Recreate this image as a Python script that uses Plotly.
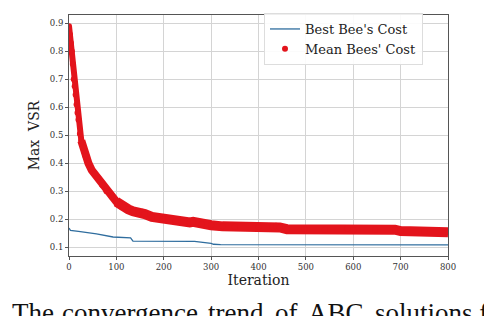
import plotly.graph_objects as go

# ---------------- data ----------------
mean_iter = [0, 2, 4, 6, 8, 10, 12, 14, 16, 18, 20, 23, 26, 30, 35, 41, 48, 55, 61,
             70, 79, 90, 100, 107, 115, 125, 135, 149, 155, 160, 175, 198, 225, 255,
             262, 280, 300, 324, 350, 400, 430, 437, 445, 460, 497, 540, 588, 600,
             646, 688, 700, 750, 800]
mean_cost = [0.89, 0.86, 0.83, 0.80, 0.755, 0.70, 0.675, 0.645, 0.61, 0.58, 0.555,
             0.505, 0.48, 0.455, 0.425, 0.40, 0.375, 0.36, 0.347, 0.322, 0.30, 0.28,
             0.262, 0.252, 0.243, 0.235, 0.228, 0.222, 0.226, 0.218, 0.208, 0.20,
             0.193, 0.188, 0.19, 0.182, 0.178, 0.174, 0.173, 0.172, 0.171, 0.176,
             0.170, 0.164, 0.165, 0.162, 0.166, 0.160, 0.162, 0.162, 0.157, 0.156,
             0.153]

best_iter = [0, 3, 20, 58, 93, 130, 135, 265, 300, 305, 320, 800]
best_cost = [0.168, 0.160, 0.156, 0.147, 0.136, 0.133, 0.121, 0.120, 0.113, 0.110,
             0.109, 0.108]

x_ticks = [0, 100, 200, 300, 400, 500, 600, 700, 800]
y_ticks = [0.1, 0.2, 0.3, 0.4, 0.5, 0.6, 0.7, 0.8, 0.9]
y_tick_labels = ["0.1", "0.2", "0.3", "0.4", "0.5", "0.6", "0.7", "0.8", "0.9"]

caption_words = ["The", "convergence", "trend", "of", "ABC", "solutions fo"]
caption_px = [2, 52, 198, 265, 298, 365]

# ---------------- style ----------------
RED = "#e3141c"
BLUE = "#2f6d9e"
SERIF = "DejaVu Serif"

ML, MR, MT, MB = 61, 52, 6, 68
W, H = 492, 316
PW = W - ML - MR
PH = H - MT - MB

fig = go.Figure()

# the thick red band: thinner where the curve is steep, thicker where it flattens
segments = [(0, 14, 6), (12, 24, 8), (22, len(mean_iter) - 1, 10)]
for a, b, wdt in segments:
    fig.add_trace(go.Scatter(x=mean_iter[a:b + 1], y=mean_cost[a:b + 1], mode="lines",
                             line=dict(color=RED, width=wdt), showlegend=False,
                             hoverinfo="skip"))
fig.add_trace(go.Scatter(x=best_iter, y=best_cost, mode="lines",
                         line=dict(color=BLUE, width=1.3), name="Best Bee's Cost"))
fig.add_trace(go.Scatter(x=mean_iter, y=mean_cost, mode="markers",
                         marker=dict(color=RED, size=6), name="Mean Bees' Cost"))

for w, px in zip(caption_words, caption_px):
    fig.add_annotation(text=w, xref="paper", yref="paper",
                       x=(px - ML) / PW, y=(MT + PH - 288) / PH,
                       xanchor="left", yanchor="top", showarrow=False,
                       font=dict(family="Liberation Serif", size=27, color="#111"))

axis_common = dict(showline=True, linecolor="#555", linewidth=1, mirror=True,
                   showgrid=True, gridcolor="#d4d4d4", gridwidth=1, zeroline=False,
                   ticks="outside", ticklen=3, tickcolor="#555",
                   tickfont=dict(family=SERIF, size=8.5, color="#333"))

fig.update_xaxes(range=[0, 800], tickvals=x_ticks,
                 title=dict(text="Iteration", font=dict(family=SERIF, size=14, color="#222"),
                            standoff=1),
                 **axis_common)
fig.update_yaxes(range=[0.068, 0.93], tickvals=y_ticks, ticktext=y_tick_labels,
                 title=dict(text="Max  VSR", font=dict(family=SERIF, size=14, color="#222"),
                            standoff=6),
                 **axis_common)

fig.update_layout(
    width=W, height=H,
    margin=dict(l=ML, r=MR, t=MT, b=MB),
    paper_bgcolor="white", plot_bgcolor="white",
    legend=dict(x=(256 - ML) / PW, y=(MT + PH - 5) / PH, xanchor="left", yanchor="top",
                bgcolor="rgba(255,255,255,0.9)", bordercolor="#dddddd", borderwidth=1,
                font=dict(family=SERIF, size=13, color="#222"), tracegroupgap=0,
                itemwidth=30),
)

fig.write_html("out.html")
